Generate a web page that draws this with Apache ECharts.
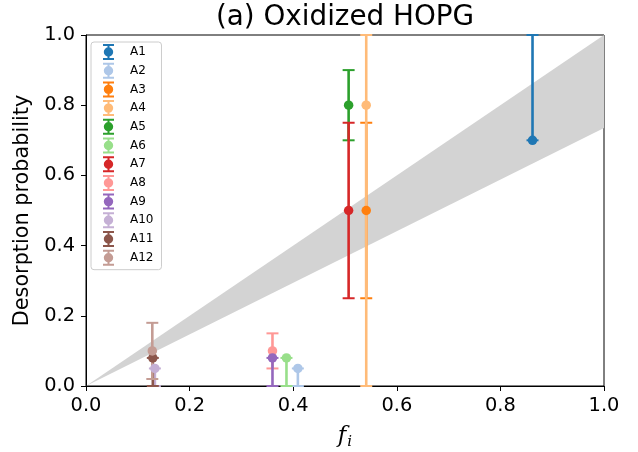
<!DOCTYPE html>
<html>
<head>
<meta charset="utf-8">
<script src="https://cdn.jsdelivr.net/npm/echarts@6/dist/echarts.min.js"></script>
<style>
  html, body { margin: 0; padding: 0; background: #fff; }
  #chart { width: 638px; height: 452px; }
</style>
</head>
<body>
<div id="chart"></div>
<script>
// Sites and their measured desorption probabilities
const names   = ['A1', 'A2', 'A3', 'A4', 'A5', 'A6', 'A7', 'A8', 'A9', 'A10', 'A11', 'A12'];
const fValues = [0.862, 0.409, 0.541, 0.541, 0.507, 0.387, 0.507, 0.360, 0.360, 0.133, 0.129, 0.128];
const pValues = [0.70, 0.05, 0.50, 0.80, 0.80, 0.08, 0.50, 0.10, 0.08, 0.05, 0.08, 0.10];
const errMinus = [0.00, 0.05, 0.25, 0.80, 0.10, 0.08, 0.25, 0.05, 0.08, 0.05, 0.08, 0.08];
const errPlus  = [0.30, 0.00, 0.25, 0.20, 0.10, 0.00, 0.25, 0.05, 0.00, 0.00, 0.00, 0.08];
const colors = ['#1f77b4', '#aec7e8', '#ff7f0e', '#ffbb78', '#2ca02c', '#98df8a',
                '#d62728', '#ff9896', '#9467bd', '#c5b0d5', '#8c564b', '#c49c94'];

// Shaded band between two proportional bounds
const bandX    = [0.0, 1.0];
const bandLow  = [0.0, 0.735];
const bandHigh = [0.0, 1.0];

const FONT = 'DejaVu Sans';
// Legend glyph: error bar with caps and a round marker
const errIcon = 'path://M0,0H11V2H0Z M4.5,2H6.5V14H4.5Z M0,14H11V16H0Z M5.5,3.3A4.7,4.7 0 1 1 5.5,12.7A4.7,4.7 0 1 1 5.5,3.3Z';

const chart = echarts.init(document.getElementById('chart'), null, { renderer: 'canvas' });

const series = [];

// Grey band
series.push({
  type: 'custom',
  name: 'band',
  z: 1,
  silent: true,
  data: [0],
  renderItem: function (params, api) {
    const pts = [];
    for (let k = 0; k < bandX.length; k++) pts.push(api.coord([bandX[k], bandHigh[k]]));
    for (let k = bandX.length - 1; k >= 0; k--) pts.push(api.coord([bandX[k], bandLow[k]]));
    return { type: 'polygon', shape: { points: pts }, style: { fill: '#d3d3d3', stroke: null } };
  }
});

// Markers (listed first so the legend takes its colours from them)
names.forEach(function (n, i) {
  series.push({
    type: 'scatter',
    name: n,
    z: 4,
    symbol: 'circle',
    symbolSize: 9.5,
    itemStyle: { color: colors[i], opacity: 1 },
    data: [[fValues[i], pValues[i]]],
    emphasis: { disabled: true }
  });
});

// Error bars with caps
names.forEach(function (n, i) {
  series.push({
    type: 'custom',
    name: n,
    z: 3,
    itemStyle: { color: colors[i] },
    data: [[fValues[i], pValues[i], pValues[i] - errMinus[i], pValues[i] + errPlus[i]]],
    encode: { x: 0, y: 1 },
    renderItem: function (params, api) {
      const x = api.value(0);
      const top = api.coord([x, api.value(3)]);
      const bot = api.coord([x, api.value(2)]);
      const hw = 6;
      const c = colors[i];
      return {
        type: 'group',
        children: [
          { type: 'line', shape: { x1: top[0], y1: top[1], x2: bot[0], y2: bot[1] },
            style: { stroke: c, lineWidth: 2.6 } },
          { type: 'line', shape: { x1: top[0] - hw, y1: top[1], x2: top[0] + hw, y2: top[1] },
            style: { stroke: c, lineWidth: 2 } },
          { type: 'line', shape: { x1: bot[0] - hw, y1: bot[1], x2: bot[0] + hw, y2: bot[1] },
            style: { stroke: c, lineWidth: 2 } }
        ]
      };
    }
  });
});

const option = {
  animation: false,
  backgroundColor: '#fff',
  title: {
    text: '(a) Oxidized HOPG',
    left: 345,
    textAlign: 'center',
    top: 4,
    padding: 0,
    textStyle: { fontFamily: FONT, fontSize: 27.8, fontWeight: 'normal', color: '#000' }
  },
  legend: {
    orient: 'vertical',
    left: 91,
    top: 42,
    padding: [2, 8, 4, 12],
    itemWidth: 11,
    itemHeight: 16,
    itemGap: 2.7,
    backgroundColor: 'rgba(255,255,255,0.8)',
    borderColor: '#cccccc',
    borderWidth: 1,
    borderRadius: 3,
    data: names.map(function (n) { return { name: n, icon: errIcon }; }),
    itemStyle: { borderWidth: 0 },
    textStyle: { fontFamily: FONT, fontSize: 12, color: '#000', padding: [0, 0, 0, 11] },
    selectedMode: false
  },
  grid: {
    left: 86, right: 34, top: 35, bottom: 66,
    outerBoundsMode: 'none',
    containLabel: false,
    show: true, borderColor: '#000', borderWidth: 1, backgroundColor: 'transparent'
  },
  xAxis: {
    type: 'value',
    min: 0, max: 1, interval: 0.2,
    name: '{f|f}{i|i}',
    nameLocation: 'middle',
    nameGap: 37,
    nameTextStyle: {
      rich: {
        f: { fontFamily: 'DejaVu Serif', fontStyle: 'italic', fontSize: 23, color: '#000' },
        i: { fontFamily: 'DejaVu Serif', fontStyle: 'italic', fontSize: 15, color: '#000', padding: [12, 0, 0, 1] }
      }
    },
    axisLine: { show: true, onZero: false, lineStyle: { color: '#000', width: 1 } },
    axisTick: { show: true, inside: false, length: 5, lineStyle: { color: '#000', width: 1 } },
    axisLabel: {
      fontFamily: FONT, fontSize: 19.4, color: '#000', margin: 10,
      formatter: function (v) { return v.toFixed(1); }
    },
    splitLine: { show: false }
  },
  yAxis: {
    type: 'value',
    min: 0, max: 1, interval: 0.2,
    name: 'Desorption probability',
    nameLocation: 'middle',
    nameGap: 50,
    nameTextStyle: { fontFamily: FONT, fontSize: 20.8, color: '#000' },
    axisLine: { show: true, onZero: false, lineStyle: { color: '#000', width: 1 } },
    axisTick: { show: true, inside: false, length: 5, lineStyle: { color: '#000', width: 1 } },
    axisLabel: {
      fontFamily: FONT, fontSize: 19.4, color: '#000', margin: 11,
      formatter: function (v) { return v.toFixed(1); }
    },
    splitLine: { show: false }
  },
  series: series
};

chart.setOption(option);
</script>
</body>
</html>
